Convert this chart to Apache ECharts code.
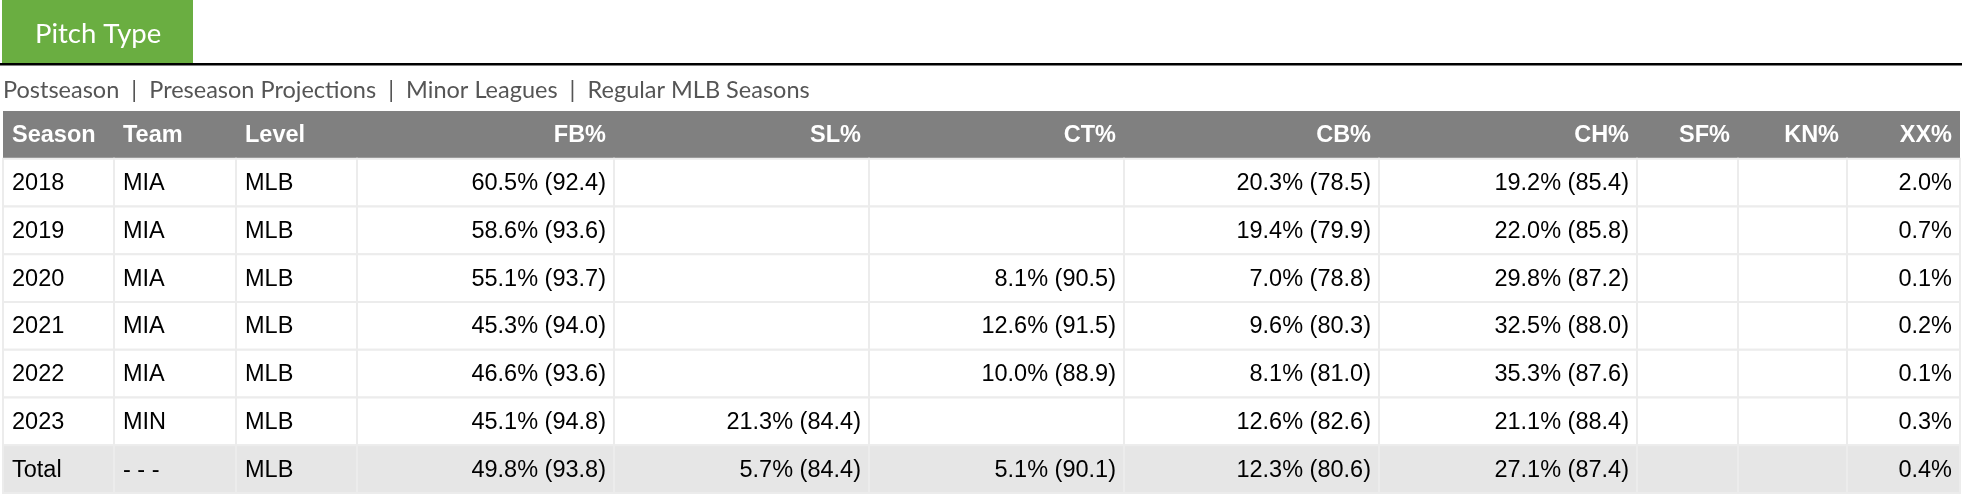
<!DOCTYPE html>
<html><head><meta charset="utf-8">
<script src="https://cdn.jsdelivr.net/npm/echarts@6/dist/echarts.min.js"></script>
<style>html,body{margin:0;padding:0;background:#fff}#c{width:1962px;height:498px}</style>
</head><body><div id="c"></div>
<script>
// ---- data ----
const columns = ['Season','Team','Level','FB%','SL%','CT%','CB%','CH%','SF%','KN%','XX%'];
const seasons = ['2018','2019','2020','2021','2022','2023','Total'];
const teams   = ['MIA','MIA','MIA','MIA','MIA','MIN','- - -'];
const levels  = ['MLB','MLB','MLB','MLB','MLB','MLB','MLB'];
const fbPct  = [60.5,58.6,55.1,45.3,46.6,45.1,49.8];
const fbVelo = [92.4,93.6,93.7,94.0,93.6,94.8,93.8];
const slPct  = [null,null,null,null,null,21.3,5.7];
const slVelo = [null,null,null,null,null,84.4,84.4];
const ctPct  = [null,null,8.1,12.6,10.0,null,5.1];
const ctVelo = [null,null,90.5,91.5,88.9,null,90.1];
const cbPct  = [20.3,19.4,7.0,9.6,8.1,12.6,12.3];
const cbVelo = [78.5,79.9,78.8,80.3,81.0,82.6,80.6];
const chPct  = [19.2,22.0,29.8,32.5,35.3,21.1,27.1];
const chVelo = [85.4,85.8,87.2,88.0,87.6,88.4,87.4];
const sfPct  = [null,null,null,null,null,null,null];
const knPct  = [null,null,null,null,null,null,null];
const xxPct  = [2.0,0.7,0.1,0.2,0.1,0.3,0.4];
const navLinks = ['Postseason','Preseason Projections','Minor Leagues','Regular MLB Seasons'];
const tabTitle = 'Pitch Type';

// ---- layout ----
const colEdges = [0,111,233,354,611,866,1121,1376,1634,1735,1844,1957];
const leftAligned = [true,true,true,false,false,false,false,false,false,false,false];

function pv(p, v){ return p == null ? '' : p.toFixed(1) + '%' + (v == null ? '' : ' (' + v.toFixed(1) + ')'); }
const rowKeys = ['header'].concat(seasons);
const bodyRows = seasons.map((s,i) => [
  s, teams[i], levels[i],
  pv(fbPct[i], fbVelo[i]), pv(slPct[i], slVelo[i]), pv(ctPct[i], ctVelo[i]),
  pv(cbPct[i], cbVelo[i]), pv(chPct[i], chVelo[i]), pv(sfPct[i]), pv(knPct[i]), pv(xxPct[i])
]);
const table = [columns].concat(bodyRows);
const cells = [];
table.forEach((row, r) => row.forEach((txt, c) => cells.push([c, r, txt])));

const chart = echarts.init(document.getElementById('c'), null, {renderer:'canvas'});
chart.setOption({
  animation: false,
  backgroundColor: '#fff',
  grid: {left: 3, top: 111, width: 1957, height: 382},
  xAxis: {type:'value', min:0, max:1957, show:false},
  yAxis: {type:'category', data: rowKeys, inverse:true, show:false},
  graphic: [
    {type:'rect', left:2, top:0, shape:{width:191, height:63}, style:{fill:'#6aae41'}},
    {type:'text', left:35, top:20, style:{text:tabTitle, fill:'#fff', font:'27.5px Lato'}},
    {type:'rect', left:0, top:63, shape:{width:1962, height:2.5}, style:{fill:'#000'}},
    {type:'text', left:3, top:78, style:{text: navLinks.join('  |  '), fill:'#555', font:'23.5px Lato'}}
  ],
  series: [{
    type: 'custom',
    coordinateSystem: 'cartesian2d',
    clip: false,
    data: cells,
    renderItem: function(params, api){
      const c = api.value(0), r = api.value(1);
      const txt = cells[params.dataIndex][2];
      const p0 = api.coord([colEdges[c], r]);
      const p1 = api.coord([colEdges[c+1], r]);
      const h = api.size([0,1])[1];
      const isHeader = r === 0;
      const isTotal = r === table.length - 1;
      const fill = isHeader ? '#808080' : (isTotal ? '#e6e6e6' : '#ffffff');
      const x0 = p0[0], x1 = p1[0], yc = p0[1];
      const left = leftAligned[c];
      return {
        type: 'group',
        children: [
          {type:'rect', shape:{x:x0, y:yc - h/2, width:x1 - x0, height:h},
           style:{fill: fill, stroke: isHeader ? '#808080' : '#ececec', lineWidth: isHeader ? 0 : 2}},
          {type:'text', x: left ? x0 + 9 : x1 - 8, y: yc + 1,
           style:{text: txt, align: left ? 'left' : 'right', verticalAlign:'middle',
                  fill: isHeader ? '#fff' : '#000',
                  font: (isHeader ? 'bold ' : '') + '23.5px "Liberation Sans", Arial, sans-serif'}}
        ]
      };
    }
  }]
});
</script></body></html>
